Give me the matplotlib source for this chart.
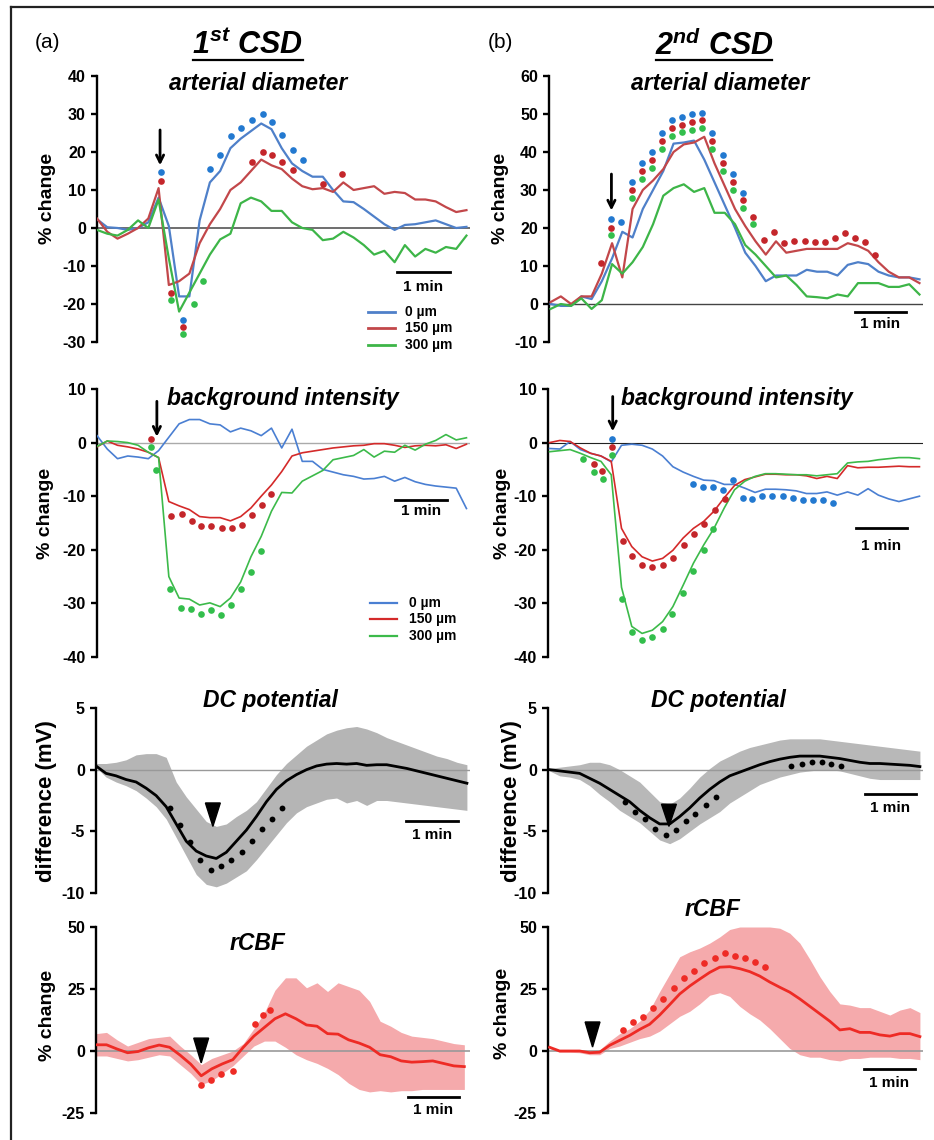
import numpy as np
import matplotlib
matplotlib.use("Agg")
import matplotlib.pyplot as plt
from matplotlib.lines import Line2D

plt.rcParams['font.family'] = ['Liberation Sans', 'DejaVu Sans']
plt.rcParams['mathtext.fontset'] = 'custom'
plt.rcParams['mathtext.rm'] = 'Liberation Sans:bold:italic'
plt.rcParams['mathtext.it'] = 'Liberation Sans:bold:italic'
plt.rcParams['mathtext.bf'] = 'Liberation Sans:bold:italic'
plt.rcParams['axes.unicode_minus'] = False

# ---------------- data (time in minutes) ----------------
dt_top = 0.1937
dt_dc = 0.1887
dt_cbf_a = 0.1981

# (a) arterial diameter
diam_a_blue = [2.3, 0.2, 0.0, -0.5, 0.0, 1.5, 8.0, 0.5, -18.0, -18.0, 2.0, 12.0, 15.0, 21.0, 23.5, 25.5, 27.5, 26.0,
               21.0, 17.0, 15.0, 13.5, 13.5, 10.0, 7.0, 6.8, 5.0, 3.0, 1.0, -0.5, 0.8, 1.0, 1.5, 2.0, 1.0, 0.0, 0.3]
diam_a_red = [2.5, -1.0, -2.8, -1.5, 0.0, 2.5, 10.5, -15.0, -14.0, -12.0, -4.0, 1.0, 5.0, 10.0, 12.0, 15.0, 18.0, 16.5,
              15.5, 13.0, 11.0, 10.2, 10.5, 9.5, 12.0, 10.0, 10.5, 11.0, 9.0, 9.5, 9.2, 7.5, 7.5, 7.0, 5.5, 4.2, 4.7]
diam_a_green = [-0.5, -1.5, -2.0, -0.5, 2.0, 0.0, 7.5, -8.0, -22.0, -17.0, -12.0, -7.0, -3.0, -1.5, 6.5, 8.0, 7.0, 4.5,
                4.5, 1.5, 0.0, -0.5, -3.2, -2.8, -1.0, -2.5, -4.5, -7.0, -6.0, -9.0, -4.5, -7.5, -5.5, -6.5, -5.0, -5.5, -2.0]
diam_a_dot_blue_x = [1.21, 1.62, 2.14, 2.33, 2.53, 2.72, 2.92, 3.13, 3.31, 3.50, 3.69, 3.88]
diam_a_dot_blue_y = [14.7, -24.1, 15.5, 19.3, 24.3, 26.2, 28.3, 30.0, 28.0, 24.5, 20.5, 17.8]
diam_a_dot_red_x = [1.21, 1.40, 1.62, 2.92, 3.13, 3.31, 3.50, 3.69, 4.26, 4.62]
diam_a_dot_red_y = [12.5, -17.0, -26.0, 17.3, 20.0, 19.1, 17.3, 15.2, 11.6, 14.3]
diam_a_dot_green_x = [1.40, 1.62, 1.84, 2.01]
diam_a_dot_green_y = [-19.0, -28.0, -20.0, -14.0]

# (b) arterial diameter
diam_b_blue = [0.0, -0.5, -0.5, 2.0, 1.3, 6.0, 12.0, 19.0, 17.5, 25.0, 30.0, 35.0, 42.2, 42.5, 43.0, 38.0, 32.0, 26.0,
               20.0, 13.5, 10.0, 6.0, 7.5, 7.5, 7.5, 9.0, 8.5, 8.5, 7.5, 10.3, 11.0, 10.5, 8.5, 7.5, 7.0, 7.0, 6.5]
diam_b_red = [0.5, 2.0, 0.0, 2.0, 2.0, 8.0, 16.0, 7.0, 25.0, 30.0, 32.5, 35.5, 40.0, 42.0, 42.5, 44.0, 37.0, 31.0,
              25.0, 20.5, 16.5, 13.0, 16.5, 13.5, 14.0, 14.5, 14.5, 14.5, 14.5, 16.0, 15.3, 14.0, 11.0, 8.5, 7.0, 7.0, 5.5]
diam_b_green = [-1.3, 0.0, -0.5, 1.5, -1.3, 1.0, 10.5, 8.0, 11.0, 15.0, 21.0, 28.5, 30.5, 31.5, 29.5, 30.5, 24.0, 24.0,
                21.0, 15.5, 13.0, 10.0, 7.0, 7.5, 5.0, 2.0, 1.8, 1.5, 2.5, 2.0, 5.5, 5.5, 5.5, 4.5, 4.5, 5.2, 2.5]
diam_b_dot_blue_x = [1.14, 1.34, 1.53, 1.72, 1.91, 2.10, 2.30, 2.48, 2.68, 2.87, 3.06, 3.26, 3.45, 3.64]
diam_b_dot_blue_y = [22.4, 21.7, 32.0, 37.0, 40.0, 45.0, 48.5, 49.3, 50.0, 50.3, 45.0, 39.2, 34.2, 29.3]
diam_b_dot_red_x = [0.96, 1.14, 1.53, 1.72, 1.91, 2.10, 2.30, 2.48, 2.68, 2.87, 3.06, 3.26, 3.45, 3.64, 3.83, 4.03,
                    4.22, 4.41, 4.60, 4.80, 4.99, 5.18, 5.38, 5.57, 5.76, 5.95, 6.14]
diam_b_dot_red_y = [10.8, 20.0, 30.0, 35.0, 38.0, 42.9, 46.4, 47.0, 47.9, 48.4, 42.8, 37.0, 32.0, 27.5, 23.0, 16.8,
                    19.0, 16.0, 16.6, 16.6, 16.3, 16.3, 17.5, 18.8, 17.5, 16.3, 13.0]
diam_b_dot_green_x = [1.14, 1.53, 1.72, 1.91, 2.10, 2.30, 2.48, 2.68, 2.87, 3.06, 3.26, 3.45, 3.64, 3.83]
diam_b_dot_green_y = [18.2, 27.8, 33.0, 35.8, 40.9, 44.3, 45.3, 45.9, 46.2, 40.9, 35.0, 30.0, 25.3, 21.0]

# (a) background intensity
bg_a_blue = [1.3, -1.2, -3.0, -2.5, -2.7, -3.0, -1.5, 1.0, 3.5, 4.3, 4.3, 3.5, 3.3, 2.0, 2.7, 2.2, 1.3, 2.7, -1.0,
             2.5, -3.5, -3.5, -5.0, -5.5, -6.0, -6.3, -6.8, -6.7, -6.3, -7.2, -6.5, -7.3, -7.8, -8.1, -8.3, -8.5, -12.3]
bg_a_red = [-0.8, 0.3, -0.5, -0.8, -1.2, -1.8, -2.8, -11.0, -11.8, -12.5, -13.8, -14.0, -14.0, -14.6, -13.8, -12.2,
            -10.0, -7.9, -5.4, -2.5, -1.9, -1.6, -1.3, -1.0, -0.8, -0.6, -0.5, -0.2, -0.2, -0.5, -0.9, -0.6, -0.5,
            -0.6, -0.4, -1.1, -0.3]
bg_a_green = [-0.7, 0.3, 0.2, 0.0, -0.5, -1.8, -2.8, -25.0, -29.0, -29.2, -30.3, -29.9, -30.6, -29.0, -26.0, -21.3,
              -17.5, -12.8, -9.3, -9.4, -7.2, -6.2, -5.2, -3.2, -2.8, -2.4, -1.3, -2.7, -1.6, -1.8, -0.5, -1.4, -0.3,
              0.4, 1.5, 0.5, 0.9]
bg_a_dot_red_x = [1.01, 1.40, 1.60, 1.79, 1.97, 2.16, 2.36, 2.54, 2.73, 2.92, 3.11, 3.29]
bg_a_dot_red_y = [0.6, -13.7, -13.3, -14.7, -15.6, -15.6, -16.0, -16.0, -15.3, -13.5, -11.6, -9.5]
bg_a_dot_green_x = [1.01, 1.12, 1.38, 1.58, 1.77, 1.96, 2.15, 2.34, 2.53, 2.72, 2.91, 3.09]
bg_a_dot_green_y = [-0.8, -5.2, -27.4, -30.8, -31.1, -32.0, -31.3, -32.2, -30.3, -27.4, -24.2, -20.3]

# (b) background intensity
bg_b_blue = [-1.1, -1.2, 0.2, -1.3, -2.0, -2.5, -3.6, -0.5, -0.3, -0.5, -1.2, -2.5, -4.5, -5.5, -6.3, -7.0, -7.1,
             -7.8, -7.8, -8.5, -9.3, -8.7, -8.7, -8.8, -9.0, -9.5, -9.5, -9.2, -9.8, -9.2, -9.8, -8.6, -9.8, -10.5,
             -11.0, -10.5, -10.0]
bg_b_red = [0.0, 0.4, 0.2, -1.0, -2.0, -2.5, -3.5, -16.0, -19.4, -21.3, -22.1, -21.6, -20.1, -17.8, -16.0, -14.7,
            -12.8, -10.3, -8.0, -6.9, -6.4, -5.9, -5.9, -6.0, -6.0, -6.2, -6.7, -6.3, -6.7, -4.3, -4.7, -4.6, -4.6,
            -4.5, -4.4, -4.5, -4.5]
bg_b_green = [-1.7, -1.5, -1.3, -2.0, -2.8, -3.5, -6.0, -27.0, -34.3, -35.6, -35.0, -33.4, -30.6, -26.6, -22.5,
              -19.1, -16.0, -12.2, -8.8, -7.2, -6.3, -5.8, -5.8, -5.9, -6.0, -6.0, -6.2, -6.0, -5.8, -3.8, -3.6,
              -3.5, -3.2, -3.0, -2.8, -2.8, -3.0]
bg_b_dot_blue_x = [1.17, 2.70, 2.89, 3.08, 3.27, 3.46, 3.64, 3.82, 4.01, 4.20, 4.40, 4.59, 4.78, 4.97, 5.16, 5.35]
bg_b_dot_blue_y = [0.6, -7.7, -8.2, -8.3, -8.8, -6.9, -10.3, -10.6, -10.0, -10.0, -9.9, -10.3, -10.8, -10.8, -10.8, -11.2]
bg_b_dot_red_x = [0.83, 0.99, 1.17, 1.39, 1.55, 1.75, 1.94, 2.13, 2.33, 2.53, 2.72, 2.92, 3.11, 3.30]
bg_b_dot_red_y = [-3.9, -5.3, -0.8, -18.4, -21.1, -22.9, -23.3, -22.8, -21.6, -19.1, -17.0, -15.1, -12.6, -10.5]
bg_b_dot_green_x = [0.63, 0.83, 1.01, 1.17, 1.36, 1.55, 1.74, 1.94, 2.13, 2.31, 2.52, 2.70, 2.91, 3.09]
bg_b_dot_green_y = [-3.1, -5.4, -6.7, -2.4, -29.1, -35.4, -36.8, -36.3, -34.8, -32.0, -28.0, -23.9, -20.0, -16.1]

# DC potential
dc_a_mean = [0.3, -0.3, -0.5, -0.8, -1.0, -1.5, -2.1, -3.0, -4.4, -5.8, -6.6, -7.0, -7.2, -6.7, -5.8, -4.9, -3.8,
             -2.6, -1.6, -0.9, -0.4, 0.0, 0.3, 0.45, 0.5, 0.45, 0.5, 0.35, 0.4, 0.4, 0.25, 0.1, -0.1, -0.3, -0.5,
             -0.7, -0.9, -1.1]
dc_a_upper = [0.5, 0.5, 0.6, 0.8, 1.2, 1.3, 1.3, 1.0, -1.0, -2.2, -3.2, -4.2, -4.6, -4.4, -3.8, -3.3, -2.6, -1.5,
              -0.4, 0.5, 1.2, 1.9, 2.4, 2.9, 3.2, 3.4, 3.5, 3.3, 3.0, 2.6, 2.3, 2.0, 1.7, 1.4, 1.1, 0.9, 0.6, 0.4]
dc_a_lower = [0.2, -0.6, -1.0, -1.3, -1.7, -2.3, -3.0, -4.0, -5.5, -7.0, -8.5, -9.3, -9.5, -9.2, -8.7, -8.2, -7.3,
              -6.3, -5.3, -4.3, -3.5, -3.0, -2.7, -2.4, -2.3, -2.7, -2.5, -2.9, -2.5, -2.5, -2.6, -2.7, -2.8, -2.9,
              -3.0, -3.1, -3.2, -3.3]
dc_a_dot_x = [1.40, 1.58, 1.77, 1.96, 2.16, 2.35, 2.54, 2.74, 2.93, 3.12, 3.31, 3.51]
dc_a_dot_y = [-3.1, -4.5, -5.9, -7.3, -8.1, -7.8, -7.3, -6.7, -5.8, -4.8, -4.0, -3.1]

dc_b_mean = [0.0, -0.1, -0.2, -0.3, -0.7, -1.1, -1.6, -2.1, -2.6, -3.3, -3.9, -4.4, -4.4, -3.8, -3.1, -2.3, -1.6,
             -1.0, -0.5, -0.2, 0.1, 0.4, 0.65, 0.85, 1.0, 1.1, 1.1, 1.1, 1.0, 0.9, 0.75, 0.6, 0.5, 0.5, 0.45, 0.4,
             0.35, 0.25]
dc_b_upper = [0.1, 0.2, 0.3, 0.4, 0.6, 0.6, 0.4, 0.0, -0.5, -1.0, -1.8, -2.6, -2.8, -2.3, -1.5, -0.6, 0.1, 0.7, 1.1,
              1.5, 1.8, 2.0, 2.2, 2.4, 2.5, 2.5, 2.5, 2.5, 2.4, 2.3, 2.2, 2.1, 2.0, 1.9, 1.8, 1.7, 1.6, 1.5]
dc_b_lower = [-0.1, -0.5, -0.6, -0.8, -1.3, -2.0, -2.6, -3.3, -3.8, -4.3, -5.0, -5.7, -6.0, -5.6, -5.0, -4.4, -3.9,
              -3.4, -2.7, -2.2, -1.7, -1.2, -0.9, -0.6, -0.4, -0.2, -0.1, 0.0, 0.0, -0.1, -0.3, -0.5, -0.7, -0.8,
              -0.8, -0.8, -0.8, -0.8]
dc_b_dot_x = [1.42, 1.61, 1.80, 1.99, 2.19, 2.38, 2.57, 2.75, 2.94, 3.13, 4.56, 4.75, 4.94, 5.13, 5.31, 5.50]
dc_b_dot_y = [-2.6, -3.4, -4.0, -4.8, -5.3, -4.9, -4.2, -3.6, -2.9, -2.2, 0.3, 0.5, 0.6, 0.6, 0.5, 0.3]

# rCBF
cbf_a_mean = [2.5, 2.5, 0.8, -0.7, -0.2, 1.3, 2.4, 1.5, -1.7, -5.3, -10.0, -7.2, -5.2, -3.5, 1.5, 6.0, 9.5, 13.0,
              15.0, 13.0, 10.5, 10.0, 7.0, 6.8, 4.5, 3.2, 1.5, -1.5, -2.3, -4.0, -4.5, -4.3, -4.0, -5.0, -6.0, -6.3]
cbf_a_upper = [7.0, 7.5, 4.5, 2.0, 3.5, 5.0, 5.5, 6.0, 2.0, -1.5, -5.5, -3.0, -1.5, 0.0, 3.0, 9.0, 15.5, 24.5,
               29.5, 29.5, 25.5, 27.5, 24.0, 27.5, 26.0, 24.5, 20.0, 12.0, 10.0, 7.5, 6.0, 5.5, 5.0, 4.0, 3.0, 2.5]
cbf_a_lower = [-2.0, -2.0, -3.0, -4.0, -3.5, -2.5, -1.5, -2.0, -5.5, -9.0, -13.5, -12.0, -9.0, -6.0, -2.0, 2.0,
               4.0, 4.0, 1.5, -1.5, -3.5, -5.0, -7.0, -9.5, -13.0, -15.5, -16.5, -16.0, -16.5, -16.0, -16.0,
               -15.5, -15.5, -15.5, -15.5, -15.5]
cbf_a_dot_x = [1.98, 2.17, 2.36, 2.57, 2.99, 3.14, 3.28]
cbf_a_dot_y = [-13.8, -11.5, -9.2, -8.2, 10.7, 14.5, 16.5]

cbf_b_mean = [1.5, 0.0, 0.0, 0.0, -0.7, -0.5, 2.3, 4.3, 6.3, 8.7, 10.8, 14.5, 18.7, 23.0, 26.2, 29.0, 31.7, 33.8,
              34.0, 33.2, 32.0, 30.2, 27.8, 25.7, 23.7, 21.0, 18.0, 15.0, 12.0, 8.5, 9.0, 7.5, 7.5, 6.5, 6.0, 7.0,
              7.0, 5.8]
cbf_b_upper = [1.5, 0.5, 0.3, 0.3, 0.0, 0.5, 4.0, 7.0, 9.0, 12.0, 16.5, 24.0, 31.0, 38.0, 40.0, 41.5, 43.5, 46.0,
               49.0, 50.0, 50.0, 50.0, 50.0, 49.5, 47.5, 43.5, 37.0, 30.0, 24.0, 19.0, 18.5, 17.5, 17.5, 16.0, 14.5,
               16.5, 17.5, 15.5]
cbf_b_lower = [1.0, -0.5, -0.5, -0.7, -1.5, -1.5, 1.0, 2.0, 3.5, 5.0, 6.0, 8.0, 11.0, 14.0, 16.0, 19.0, 22.5, 23.5,
               22.0, 18.0, 15.0, 12.5, 9.0, 5.0, 1.0, -1.5, -2.5, -2.5, -3.5, -4.0, -3.0, -3.0, -2.5, -2.5, -2.5,
               -3.0, -3.0, -3.5]
cbf_b_dot_x = [1.38, 1.57, 1.76, 1.95, 2.14, 2.34, 2.53, 2.72, 2.91, 3.11, 3.30, 3.49, 3.69, 3.87, 4.06]
cbf_b_dot_y = [8.5, 11.5, 13.7, 17.4, 21.0, 25.5, 29.6, 32.1, 35.4, 37.3, 39.6, 38.3, 37.3, 35.8, 34.0]

legend_labels = ['0 \u00b5m', '150 \u00b5m', '300 \u00b5m']

# ---------------- styling ----------------
W, H = 934, 1140
fig = plt.figure(figsize=(W / 100, H / 100), dpi=100)

def fx(px):
    return px / W

def fy(py):
    return 1 - py / H

def make_ax(l, t, r, b, ylim, yticks, xlim):
    ax = fig.add_axes([fx(l), fy(b), (r - l) / W, (b - t) / H])
    ax.set_ylim(*ylim)
    ax.set_xlim(*xlim)
    ax.set_yticks(yticks)
    ax.set_xticks([])
    for s in ['top', 'right', 'bottom']:
        ax.spines[s].set_visible(False)
    ax.spines['left'].set_linewidth(1.7)
    ax.tick_params(axis='y', length=4, width=1.7, pad=4, labelsize=11.5)
    for lab in ax.get_yticklabels():
        lab.set_fontweight('bold')
    ax.patch.set_alpha(0)
    return ax

def ftext(x, y, s, **kw):
    fig.text(fx(x), fy(y), s, **kw)

XL_A = (0, 7.04)
XL_B = (-0.03, 7.04)

C_BLUE = '#4f80c9'
C_RED = '#c2474a'
C_GREEN = '#3db548'
D_BLUE = '#2379d0'
D_RED = '#c4262b'
D_GREEN = '#33be4c'
MS = 4.8

def scale_bar(ax, x0, x1, y, ty):
    ax.plot([x0, x1], [y, y], color='k', lw=2, clip_on=False)
    ax.text((x0 + x1) / 2, ty, '1 min', ha='center', va='center', fontsize=11, fontweight='bold')

def down_arrow(ax, x, tip, tail):
    ax.annotate('', xy=(x, tip), xytext=(x, tail),
                arrowprops=dict(arrowstyle='->', color='k', lw=2, mutation_scale=13,
                                shrinkA=0, shrinkB=0))

def triangle(ax, x, top, tip, hw=0.14):
    ax.fill([x - hw, x + hw, x], [top, top, tip], color='k', zorder=6, clip_on=False)

def three_lines(ax, t, b, r, g, lw, cols):
    ax.plot(t, b, color=cols[0], lw=lw, zorder=3)
    ax.plot(t, r, color=cols[1], lw=lw, zorder=3)
    ax.plot(t, g, color=cols[2], lw=lw, zorder=3)

def dots(ax, x, y, c):
    ax.plot(x, y, 'o', color=c, ms=MS, mec='none', zorder=4, clip_on=False)

t37 = np.arange(37) * dt_top
t38 = np.arange(38) * dt_dc
t36 = np.arange(36) * dt_cbf_a

# ---- Row 1: arterial diameter ----
ax = make_ax(97, 76, 470, 342, (-30, 40), np.arange(-30, 41, 10), XL_A)
ax.axhline(0, color='#555555', lw=1.2, zorder=2)
three_lines(ax, t37, diam_a_blue, diam_a_red, diam_a_green, 1.6, (C_BLUE, C_RED, C_GREEN))
dots(ax, diam_a_dot_blue_x, diam_a_dot_blue_y, D_BLUE)
dots(ax, diam_a_dot_red_x, diam_a_dot_red_y, D_RED)
dots(ax, diam_a_dot_green_x, diam_a_dot_green_y, D_GREEN)
down_arrow(ax, 1.19, 16.5, 25.8)
scale_bar(ax, 5.66, 6.66, -11.6, -15.4)
for i, (lab, c) in enumerate(zip(legend_labels, (C_BLUE, C_RED, C_GREEN))):
    yy = [312, 328, 345][i]
    fig.add_artist(Line2D([fx(368), fx(395)], [fy(yy), fy(yy)], color=c, lw=2))
    ftext(405, yy, lab, ha='left', va='center', fontsize=10, fontweight='bold')

ax = make_ax(549, 76, 923, 342, (-10, 60), np.arange(-10, 61, 10), XL_B)
ax.axhline(0, color='#444444', lw=1.0, zorder=2)
three_lines(ax, t37, diam_b_blue, diam_b_red, diam_b_green, 1.6, (C_BLUE, C_RED, C_GREEN))
dots(ax, diam_b_dot_blue_x, diam_b_dot_blue_y, D_BLUE)
dots(ax, diam_b_dot_red_x, diam_b_dot_red_y, D_RED)
dots(ax, diam_b_dot_green_x, diam_b_dot_green_y, D_GREEN)
down_arrow(ax, 1.15, 24.6, 34.2)
scale_bar(ax, 5.75, 6.72, -2.1, -5.3)

# ---- Row 2: background intensity ----
C2_BLUE = '#4a7fd2'
C2_RED = '#d42a2a'
C2_GREEN = '#3cba4a'
ax = make_ax(97, 389, 470, 657, (-40, 10), np.arange(-40, 11, 10), XL_A)
ax.axhline(0, color='#aaaaaa', lw=1.0, zorder=2)
three_lines(ax, t37, bg_a_blue, bg_a_red, bg_a_green, 1.2, (C2_BLUE, C2_RED, C2_GREEN))
dots(ax, bg_a_dot_red_x, bg_a_dot_red_y, D_RED)
dots(ax, bg_a_dot_green_x, bg_a_dot_green_y, D_GREEN)
down_arrow(ax, 1.13, 1.1, 7.7)
scale_bar(ax, 5.62, 6.6, -10.7, -12.8)
for i, (lab, c) in enumerate(zip(legend_labels, (C2_BLUE, C2_RED, C2_GREEN))):
    yy = [603, 619, 636][i]
    fig.add_artist(Line2D([fx(370), fx(397)], [fy(yy), fy(yy)], color=c, lw=1.6))
    ftext(409, yy, lab, ha='left', va='center', fontsize=10, fontweight='bold')

ax = make_ax(548, 389, 923, 657, (-40, 10), np.arange(-40, 11, 10), XL_B)
ax.axhline(0, color='#222222', lw=0.8, zorder=2)
three_lines(ax, t37, bg_b_blue, bg_b_red, bg_b_green, 1.2, (C2_BLUE, C2_RED, C2_GREEN))
dots(ax, bg_b_dot_blue_x, bg_b_dot_blue_y, D_BLUE)
dots(ax, bg_b_dot_red_x, bg_b_dot_red_y, D_RED)
dots(ax, bg_b_dot_green_x, bg_b_dot_green_y, D_GREEN)
down_arrow(ax, 1.19, 2.1, 8.6)
scale_bar(ax, 5.77, 6.74, -15.9, -19.2)

# ---- Row 3: DC potential ----
ax = make_ax(96, 708, 470, 893, (-10, 5), [-10, -5, 0, 5], XL_A)
ax.fill_between(t38, dc_a_lower, dc_a_upper, color='#b5b5b5', lw=0, zorder=1)
ax.axhline(0, color='#999999', lw=1.0, zorder=2)
ax.plot(t38, dc_a_mean, color='k', lw=2.0, zorder=3)
ax.plot(dc_a_dot_x, dc_a_dot_y, 'o', color='k', ms=4.2, mec='none', zorder=4)
triangle(ax, 2.2, -2.7, -4.6)
scale_bar(ax, 5.83, 6.81, -4.2, -5.3)

ax = make_ax(548, 708, 923, 893, (-10, 5), [-10, -5, 0, 5], XL_B)
ax.fill_between(t38, dc_b_lower, dc_b_upper, color='#b8b8b8', lw=0, zorder=1)
ax.axhline(0, color='#999999', lw=1.0, zorder=2)
ax.plot(t38, dc_b_mean, color='k', lw=2.0, zorder=3)
ax.plot(dc_b_dot_x, dc_b_dot_y, 'o', color='k', ms=4.2, mec='none', zorder=4)
triangle(ax, 2.25, -2.8, -4.6)
scale_bar(ax, 5.94, 6.91, -2.0, -3.1)

# ---- Row 4: rCBF ----
C_CBF = '#ee2b25'
C_BAND = '#f5aaac'
ax = make_ax(96, 927, 470, 1113, (-25, 50), [-25, 0, 25, 50], XL_A)
ax.fill_between(t36, cbf_a_lower, cbf_a_upper, color=C_BAND, lw=0, zorder=1)
ax.axhline(0, color='#999999', lw=1.2, zorder=2)
ax.plot(t36, cbf_a_mean, color=C_CBF, lw=2.0, zorder=3)
ax.plot(cbf_a_dot_x, cbf_a_dot_y, 'o', color=C_CBF, ms=4.8, mec='none', zorder=4)
triangle(ax, 1.98, 5.2, -4.8)
scale_bar(ax, 5.87, 6.83, -18.5, -23.9)

ax = make_ax(548, 927, 923, 1113, (-25, 50), [-25, 0, 25, 50], XL_B)
ax.fill_between(t38, cbf_b_lower, cbf_b_upper, color=C_BAND, lw=0, zorder=1)
ax.axhline(0, color='#999999', lw=1.2, zorder=2)
ax.plot(t38, cbf_b_mean, color=C_CBF, lw=2.0, zorder=3)
ax.plot(cbf_b_dot_x, cbf_b_dot_y, 'o', color=C_CBF, ms=4.8, mec='none', zorder=4)
triangle(ax, 0.81, 11.7, 1.6)
scale_bar(ax, 5.92, 6.89, -7.3, -13.0)

# ---------------- text ----------------
ftext(47, 42, '(a)', ha='center', va='center', fontsize=15)
ftext(500, 42, '(b)', ha='center', va='center', fontsize=15)
ftext(248, 46, r'$1^{st}$ CSD', ha='center', va='center', fontsize=22, fontweight='bold', fontstyle='italic')
ftext(714, 46, r'$2^{nd}$ CSD', ha='center', va='center', fontsize=22, fontweight='bold', fontstyle='italic')
fig.add_artist(Line2D([fx(193), fx(303)], [fy(60), fy(60)], color='k', lw=1.6))
fig.add_artist(Line2D([fx(656), fx(772)], [fy(60), fy(60)], color='k', lw=1.6))

ttl = dict(ha='center', va='center', fontsize=16.5, fontweight='bold', fontstyle='italic')
ftext(258, 83, 'arterial diameter', **ttl)
ftext(720, 83, 'arterial diameter', **ttl)
ftext(283, 399, 'background intensity', **ttl)
ftext(737, 399, 'background intensity', **ttl)
ftext(270, 700, 'DC potential', **ttl)
ftext(718, 700, 'DC potential', **ttl)
ftext(258, 943, 'rCBF', **ttl)
ftext(713, 910, 'rCBF', **ttl)

yl = dict(ha='center', va='center', rotation=90, fontsize=14, fontweight='bold')
ftext(47, 198, '% change', **yl)
ftext(500, 198, '% change', **yl)
ftext(45, 513, '% change', **yl)
ftext(503, 513, '% change', **yl)
ftext(47, 801, 'difference (mV)', ha='center', va='center', rotation=90, fontsize=16, fontweight='bold')
ftext(512, 801, 'difference (mV)', ha='center', va='center', rotation=90, fontsize=16, fontweight='bold')
ftext(47, 1015, '% change', **yl)
ftext(503, 1013, '% change', **yl)

# frame
fig.add_artist(Line2D([fx(11), fx(934)], [fy(6.7), fy(6.7)], color='#222222', lw=1.6))
fig.add_artist(Line2D([fx(11), fx(11)], [fy(6.7), fy(1140)], color='#222222', lw=1.6))

fig.savefig('out.png', dpi=100)
